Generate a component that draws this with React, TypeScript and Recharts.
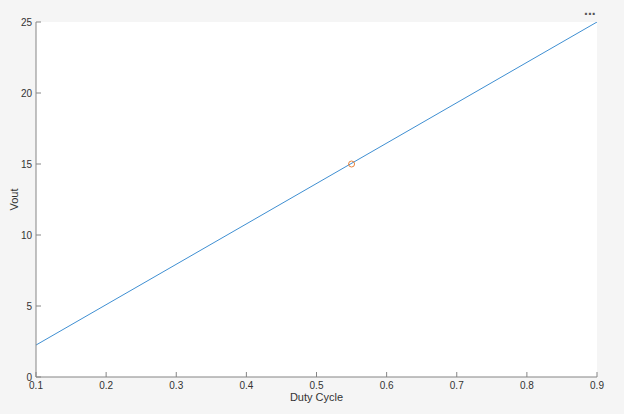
import React from 'react';
import { ComposedChart, Line, Scatter, XAxis, YAxis, CartesianGrid } from 'recharts';

const lineX = [0.1, 0.9];
const lineY = [2.25, 25];
const markerX = [0.55];
const markerY = [15];
const xTicks = [0.1, 0.2, 0.3, 0.4, 0.5, 0.6, 0.7, 0.8, 0.9];
const yTicks = [0, 5, 10, 15, 20, 25];

const lineData = lineX.map((x, i) => ({ x, y: lineY[i] }));
const markerData = markerX.map((x, i) => ({ x, y: markerY[i] }));

const FONT = '"Liberation Sans", Arial, sans-serif';
const AXIS = '#858585';

export default function App() {
  return (
    <div style={{ position: 'absolute', left: 0, top: 0, width: 624, height: 414, background: '#f5f5f5', fontFamily: FONT }}>
      <div style={{ position: 'absolute', left: 584, top: 2, fontSize: 14, color: '#555', letterSpacing: 0, fontWeight: 'bold' }}>...</div>
      <ComposedChart
        width={624}
        height={414}
        margin={{ top: 22, right: 27, left: 0, bottom: 0 }}
        style={{ fontFamily: FONT }}
      >
        <CartesianGrid fill="#ffffff" fillOpacity={1} stroke="none" horizontal={false} vertical={false} />
        <XAxis
          type="number"
          dataKey="x"
          domain={[0.1, 0.9]}
          ticks={xTicks}
          allowDataOverflow
          height={37}
          tickSize={-5}
          tickMargin={10}
          stroke={AXIS}
          tick={{ fill: '#333', fontSize: 10, fontFamily: FONT }}
          tickLine={{ stroke: AXIS }}
          label={{ value: 'Duty Cycle', position: 'insideBottom', offset: 13, fill: '#333', fontSize: 11, fontFamily: FONT }}
        />
        <YAxis
          type="number"
          dataKey="y"
          domain={[0, 25]}
          ticks={yTicks}
          allowDataOverflow
          width={36}
          tickSize={-5}
          tickMargin={9}
          stroke={AXIS}
          tick={{ fill: '#333', fontSize: 10, fontFamily: FONT }}
          tickLine={{ stroke: AXIS }}
          label={{ value: 'Vout', angle: -90, position: 'insideLeft', offset: 14, fill: '#333', fontSize: 11, fontFamily: FONT, style: { textAnchor: 'middle' } }}
        />
        <Line
          data={lineData}
          dataKey="y"
          type="linear"
          stroke="#3f8fd2"
          strokeWidth={1}
          dot={false}
          activeDot={false}
          isAnimationActive={false}
        />
        <Scatter
          data={markerData}
          dataKey="y"
          fill="none"
          isAnimationActive={false}
          shape={(p: any) => <circle cx={p.cx} cy={p.cy} r={3} fill="none" stroke="#e8833a" strokeWidth={1} />}
        />
      </ComposedChart>
    </div>
  );
}
